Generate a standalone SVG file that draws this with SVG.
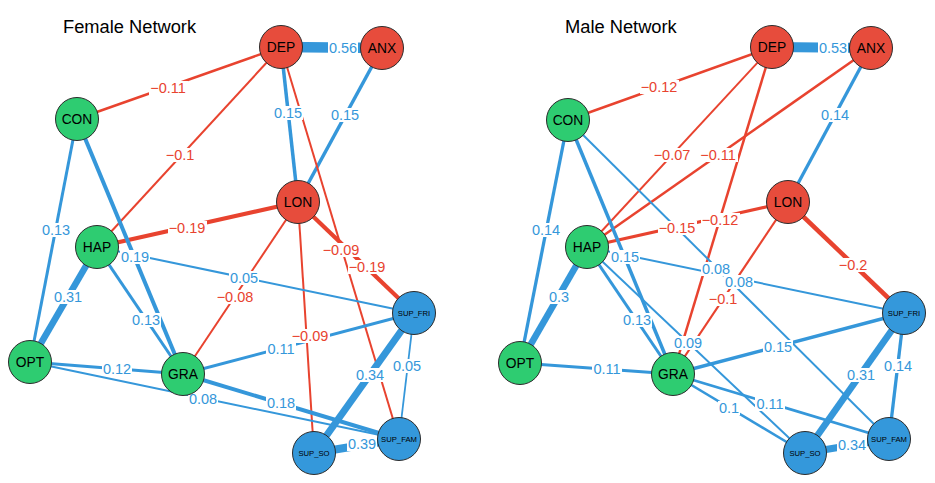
<svg xmlns="http://www.w3.org/2000/svg" width="935" height="483" viewBox="0 0 935 483">
<style>
text{font-family:"Liberation Sans",Arial,sans-serif}
.t{font-size:18.3px;fill:#000}
.e{fill:none;stroke-linecap:butt}
.p{stroke:#3597DA}
.n{stroke:#E8432F}
.lb{fill:#fff}
.lp{font-size:14.5px;fill:#3597DA;text-anchor:middle}
.ln{font-size:14.5px;fill:#E8432F;text-anchor:middle}
.nd{stroke:#2b2b2b;stroke-width:1}
.r{fill:#E74C3C}
.g{fill:#2ECC71}
.b{fill:#3498DB}
.nl{font-size:13.8px;fill:#000;text-anchor:middle}
.sl{font-size:7.7px;fill:#000;text-anchor:middle}
</style>
<rect width="935" height="483" fill="#fff"/>
<text class="t" x="63" y="33">Female Network</text>
<text class="t" x="565" y="33">Male Network</text>

<g id="edges-female">
<line class="e p" x1="281" y1="47" x2="382" y2="48" stroke-width="10.5"/>
<line class="e n" x1="281" y1="47" x2="77" y2="119" stroke-width="2.5"/>
<line class="e n" x1="281" y1="47" x2="97" y2="247" stroke-width="2"/>
<line class="e p" x1="281" y1="47" x2="298" y2="202" stroke-width="3.5"/>
<line class="e p" x1="382" y1="48" x2="298" y2="202" stroke-width="3.5"/>
<line class="e n" x1="281" y1="47" x2="399" y2="439" stroke-width="2"/>
<line class="e n" x1="298" y1="202" x2="97" y2="247" stroke-width="4.2"/>
<line class="e n" x1="298" y1="202" x2="183" y2="374" stroke-width="2"/>
<line class="e n" x1="298" y1="202" x2="314" y2="453" stroke-width="2"/>
<line class="e n" x1="298" y1="202" x2="414" y2="313" stroke-width="4.2"/>
<line class="e p" x1="77" y1="119" x2="30" y2="362" stroke-width="3"/>
<line class="e p" x1="77" y1="119" x2="183" y2="374" stroke-width="4"/>
<line class="e p" x1="97" y1="247" x2="30" y2="362" stroke-width="6.5"/>
<line class="e p" x1="97" y1="247" x2="183" y2="374" stroke-width="3"/>
<line class="e p" x1="97" y1="247" x2="414" y2="313" stroke-width="2"/>
<line class="e p" x1="30" y1="362" x2="183" y2="374" stroke-width="3"/>
<line class="e p" x1="30" y1="362" x2="399" y2="439" stroke-width="2"/>
<line class="e p" x1="183" y1="374" x2="414" y2="313" stroke-width="3"/>
<line class="e p" x1="183" y1="374" x2="399" y2="439" stroke-width="4"/>
<line class="e p" x1="414" y1="313" x2="314" y2="453" stroke-width="7"/>
<line class="e p" x1="414" y1="313" x2="399" y2="439" stroke-width="1.8"/>
<line class="e p" x1="314" y1="453" x2="399" y2="439" stroke-width="8"/>
</g>

<g id="edges-male">
<line class="e p" x1="772" y1="47" x2="871" y2="48" stroke-width="10"/>
<line class="e n" x1="772" y1="47" x2="568" y2="120" stroke-width="2.5"/>
<line class="e n" x1="772" y1="47" x2="587" y2="247" stroke-width="2"/>
<line class="e n" x1="871" y1="48" x2="587" y2="247" stroke-width="2.5"/>
<line class="e n" x1="772" y1="47" x2="673" y2="374" stroke-width="2.5"/>
<line class="e p" x1="871" y1="48" x2="788" y2="202" stroke-width="3.3"/>
<line class="e n" x1="788" y1="202" x2="587" y2="247" stroke-width="3.3"/>
<line class="e n" x1="788" y1="202" x2="673" y2="374" stroke-width="2.2"/>
<line class="e n" x1="788" y1="202" x2="904" y2="313" stroke-width="4.5"/>
<line class="e p" x1="568" y1="120" x2="520" y2="363" stroke-width="3.3"/>
<line class="e p" x1="568" y1="120" x2="673" y2="374" stroke-width="3.5"/>
<line class="e p" x1="568" y1="120" x2="889" y2="439" stroke-width="2"/>
<line class="e p" x1="587" y1="247" x2="520" y2="363" stroke-width="6.5"/>
<line class="e p" x1="587" y1="247" x2="673" y2="374" stroke-width="3"/>
<line class="e p" x1="587" y1="247" x2="904" y2="313" stroke-width="2"/>
<line class="e p" x1="587" y1="247" x2="805" y2="453" stroke-width="2"/>
<line class="e p" x1="520" y1="363" x2="673" y2="374" stroke-width="2.8"/>
<line class="e p" x1="673" y1="374" x2="904" y2="313" stroke-width="3.5"/>
<line class="e p" x1="673" y1="374" x2="805" y2="453" stroke-width="2.5"/>
<line class="e p" x1="673" y1="374" x2="889" y2="439" stroke-width="2.8"/>
<line class="e p" x1="904" y1="313" x2="805" y2="453" stroke-width="6.5"/>
<line class="e p" x1="904" y1="313" x2="889" y2="439" stroke-width="3.3"/>
<line class="e p" x1="805" y1="453" x2="889" y2="439" stroke-width="7"/>
</g>

<g id="edge-labels-female">
<rect class="lb" x="328" y="41" width="30" height="14"/><text class="lp" x="343" y="53">0.56</text>
<rect class="lb" x="149" y="81" width="39" height="14"/><text class="ln" x="168" y="93">−0.11</text>
<rect class="lb" x="273" y="106" width="30" height="14"/><text class="lp" x="288" y="118">0.15</text>
<rect class="lb" x="330" y="108" width="30" height="14"/><text class="lp" x="345" y="120">0.15</text>
<rect class="lb" x="165" y="148" width="30" height="14"/><text class="ln" x="180" y="160">−0.1</text>
<rect class="lb" x="41" y="223" width="30" height="14"/><text class="lp" x="56" y="235">0.13</text>
<rect class="lb" x="168" y="221" width="39" height="14"/><text class="ln" x="187" y="233">−0.19</text>
<rect class="lb" x="120" y="250" width="30" height="14"/><text class="lp" x="135" y="262">0.19</text>
<rect class="lb" x="229" y="271" width="30" height="14"/><text class="lp" x="244" y="283">0.05</text>
<rect class="lb" x="216" y="290" width="39" height="14"/><text class="ln" x="235" y="302">−0.08</text>
<rect class="lb" x="322" y="243" width="39" height="14"/><text class="ln" x="341" y="255">−0.09</text>
<rect class="lb" x="348" y="260" width="39" height="14"/><text class="ln" x="367" y="272">−0.19</text>
<rect class="lb" x="53" y="290" width="30" height="14"/><text class="lp" x="68" y="302">0.31</text>
<rect class="lb" x="131" y="313" width="30" height="14"/><text class="lp" x="146" y="325">0.13</text>
<rect class="lb" x="266" y="342" width="30" height="14"/><text class="lp" x="281" y="354">0.11</text>
<rect class="lb" x="291" y="329" width="39" height="14"/><text class="ln" x="310" y="341">−0.09</text>
<rect class="lb" x="392" y="359" width="30" height="14"/><text class="lp" x="407" y="371">0.05</text>
<rect class="lb" x="355" y="368" width="30" height="14"/><text class="lp" x="370" y="380">0.34</text>
<rect class="lb" x="102" y="362" width="30" height="14"/><text class="lp" x="117" y="374">0.12</text>
<rect class="lb" x="188" y="392" width="30" height="14"/><text class="lp" x="203" y="404">0.08</text>
<rect class="lb" x="266" y="396" width="30" height="14"/><text class="lp" x="281" y="408">0.18</text>
<rect class="lb" x="347" y="437" width="30" height="14"/><text class="lp" x="362" y="449">0.39</text>
</g>

<g id="edge-labels-male">
<rect class="lb" x="818" y="41" width="30" height="14"/><text class="lp" x="833" y="53">0.53</text>
<rect class="lb" x="640" y="80" width="39" height="14"/><text class="ln" x="659" y="92">−0.12</text>
<rect class="lb" x="820" y="108" width="30" height="14"/><text class="lp" x="835" y="120">0.14</text>
<rect class="lb" x="653" y="148" width="39" height="14"/><text class="ln" x="672" y="160">−0.07</text>
<rect class="lb" x="699" y="148" width="39" height="14"/><text class="ln" x="718" y="160">−0.11</text>
<rect class="lb" x="531" y="223" width="30" height="14"/><text class="lp" x="546" y="235">0.14</text>
<rect class="lb" x="658" y="221" width="39" height="14"/><text class="ln" x="677" y="233">−0.15</text>
<rect class="lb" x="701" y="213" width="39" height="14"/><text class="ln" x="720" y="225">−0.12</text>
<rect class="lb" x="610" y="250" width="30" height="14"/><text class="lp" x="625" y="262">0.15</text>
<rect class="lb" x="701" y="262" width="30" height="14"/><text class="lp" x="716" y="274">0.08</text>
<rect class="lb" x="724" y="275" width="30" height="14"/><text class="lp" x="739" y="287">0.08</text>
<rect class="lb" x="838" y="258" width="30" height="14"/><text class="ln" x="853" y="270">−0.2</text>
<rect class="lb" x="548" y="290" width="22" height="14"/><text class="lp" x="559" y="302">0.3</text>
<rect class="lb" x="708" y="292" width="30" height="14"/><text class="ln" x="723" y="304">−0.1</text>
<rect class="lb" x="622" y="313" width="30" height="14"/><text class="lp" x="637" y="325">0.13</text>
<rect class="lb" x="673" y="336" width="30" height="14"/><text class="lp" x="688" y="348">0.09</text>
<rect class="lb" x="763" y="340" width="30" height="14"/><text class="lp" x="778" y="352">0.15</text>
<rect class="lb" x="592" y="362" width="30" height="14"/><text class="lp" x="607" y="374">0.11</text>
<rect class="lb" x="846" y="368" width="30" height="14"/><text class="lp" x="861" y="380">0.31</text>
<rect class="lb" x="883" y="359" width="30" height="14"/><text class="lp" x="898" y="371">0.14</text>
<rect class="lb" x="718" y="401" width="22" height="14"/><text class="lp" x="729" y="413">0.1</text>
<rect class="lb" x="755" y="397" width="30" height="14"/><text class="lp" x="770" y="409">0.11</text>
<rect class="lb" x="837" y="438" width="30" height="14"/><text class="lp" x="852" y="450">0.34</text>
</g>

<g id="f-DEP"><circle class="nd r" cx="281" cy="47" r="21.5"/><text class="nl" x="281" y="52">DEP</text></g>
<g id="f-ANX"><circle class="nd r" cx="382" cy="48" r="21.5"/><text class="nl" x="382" y="53">ANX</text></g>
<g id="f-CON"><circle class="nd g" cx="77" cy="119" r="21.5"/><text class="nl" x="77" y="124">CON</text></g>
<g id="f-LON"><circle class="nd r" cx="298" cy="202" r="21.5"/><text class="nl" x="298" y="207">LON</text></g>
<g id="f-HAP"><circle class="nd g" cx="97" cy="247" r="21.5"/><text class="nl" x="97" y="252">HAP</text></g>
<g id="f-OPT"><circle class="nd g" cx="30" cy="362" r="21.5"/><text class="nl" x="30" y="367">OPT</text></g>
<g id="f-GRA"><circle class="nd g" cx="183" cy="374" r="21.5"/><text class="nl" x="183" y="379">GRA</text></g>
<g id="f-SUP_FRI"><circle class="nd b" cx="414" cy="313" r="21.5"/><text class="sl" x="414" y="316">SUP_FRI</text></g>
<g id="f-SUP_FAM"><circle class="nd b" cx="399" cy="439" r="21.5"/><text class="sl" x="399" y="442">SUP_FAM</text></g>
<g id="f-SUP_SO"><circle class="nd b" cx="314" cy="453" r="21.5"/><text class="sl" x="314" y="456">SUP_SO</text></g>

<g id="m-DEP"><circle class="nd r" cx="772" cy="47" r="21.5"/><text class="nl" x="772" y="52">DEP</text></g>
<g id="m-ANX"><circle class="nd r" cx="871" cy="48" r="21.5"/><text class="nl" x="871" y="53">ANX</text></g>
<g id="m-CON"><circle class="nd g" cx="568" cy="120" r="21.5"/><text class="nl" x="568" y="125">CON</text></g>
<g id="m-LON"><circle class="nd r" cx="788" cy="202" r="21.5"/><text class="nl" x="788" y="207">LON</text></g>
<g id="m-HAP"><circle class="nd g" cx="587" cy="247" r="21.5"/><text class="nl" x="587" y="252">HAP</text></g>
<g id="m-OPT"><circle class="nd g" cx="520" cy="363" r="21.5"/><text class="nl" x="520" y="368">OPT</text></g>
<g id="m-GRA"><circle class="nd g" cx="673" cy="374" r="21.5"/><text class="nl" x="673" y="379">GRA</text></g>
<g id="m-SUP_FRI"><circle class="nd b" cx="904" cy="313" r="21.5"/><text class="sl" x="904" y="316">SUP_FRI</text></g>
<g id="m-SUP_FAM"><circle class="nd b" cx="889" cy="439" r="21.5"/><text class="sl" x="889" y="442">SUP_FAM</text></g>
<g id="m-SUP_SO"><circle class="nd b" cx="805" cy="453" r="21.5"/><text class="sl" x="805" y="456">SUP_SO</text></g>
</svg>
